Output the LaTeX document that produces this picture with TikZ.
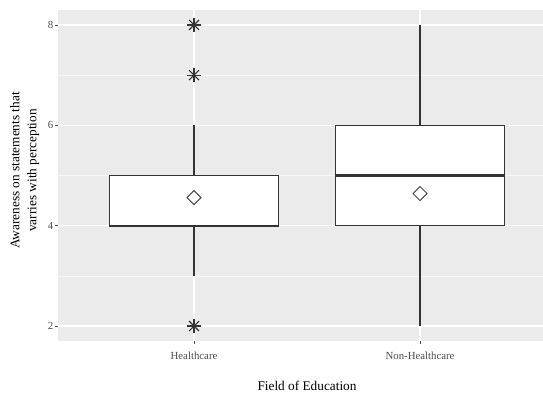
\documentclass[tikz,border=0pt]{standalone}
\usepackage{fontspec}
\setmainfont{Liberation Serif}
\definecolor{panelgray}{HTML}{EBEBEB}
\definecolor{linegray}{HTML}{333333}
\definecolor{textgray}{HTML}{4D4D4D}
\tikzset{
    majorgrid/.style={white, line width=1.2pt},
    minorgrid/.style={white!60!panelgray, line width=0.6pt},
    boxline/.style={linegray, line width=1.1pt, fill=white},
    medianline/.style={linegray, line width=2.2pt},
    outlier/.style={linegray, line width=1.1pt},
    meanmark/.style={textgray, line width=1pt},
    ticklab/.style={textgray, font=\fontsize{10.8}{12}\selectfont, inner sep=0pt},
    axtitle/.style={black, font=\fontsize{13.3}{17}\selectfont, inner sep=0pt}
}
\begin{document}
\begin{tikzpicture}[x=226pt, y=50.17pt]
        \useasboundingbox (0.1416,0.605) rectangle (2.544,8.498);
        \fill [panelgray] (0.4,1.7) rectangle (2.544,8.3);

        % grid
        \foreach \v in {3,5,7}
            \draw [minorgrid] (0.4,\v) -- (2.544,\v);
        \foreach \v in {2,4,6,8}
            \draw [majorgrid] (0.4,\v) -- (2.544,\v);
        \draw [majorgrid] (1,1.7) -- (1,8.3);
        \draw [majorgrid] (2,1.7) -- (2,8.3);

        % ticks
        \foreach \v in {2,4,6,8} {
            \draw [textgray, line width=0.8pt] (0.4,\v) -- ++(-3pt,0);
            \node [ticklab, left] (lab\v) at ([xshift=-5pt]0.4,\v) {\v};
        }
        \draw [textgray, line width=0.8pt] (1,1.7) -- ++(0,-3pt);
        \draw [textgray, line width=0.8pt] (2,1.7) -- ++(0,-3pt);
        \node [ticklab] (labhc) at (1,1.40) {Healthcare};
        \node [ticklab] (labnon) at (2,1.40) {Non-Healthcare};

        \node [axtitle] (xtitle) at (1.5,0.80) {Field of Education};
        \node [axtitle, rotate=90, align=center] (ytitle) at (0.251,5.10)
            {Awareness on statements that\\varries with perception};

        % Healthcare
        \draw [outlier] (1,5) -- (1,6);
        \draw [outlier] (1,4) -- (1,3);
        \draw [boxline] (0.625,4) rectangle (1.375,5);
        \draw [medianline] (0.625,4) -- (1.375,4);
        \foreach \v in {8,7,2}
            \foreach \a in {0,45,90,135}
                \draw [outlier] (1,\v) +(\a:7pt) -- +(\a+180:7pt);
        \draw [meanmark] (1,4.56) +(-7pt,0) -- +(0,7pt) -- +(7pt,0) -- +(0,-7pt) -- cycle;

        % Non-Healthcare
        \draw [outlier] (2,6) -- (2,8);
        \draw [outlier] (2,4) -- (2,2);
        \draw [boxline] (1.625,4) rectangle (2.375,6);
        \draw [medianline] (1.625,5) -- (2.375,5);
        \draw [meanmark] (2,4.64) +(-7pt,0) -- +(0,7pt) -- +(7pt,0) -- +(0,-7pt) -- cycle;
    \end{tikzpicture}
\end{document}
